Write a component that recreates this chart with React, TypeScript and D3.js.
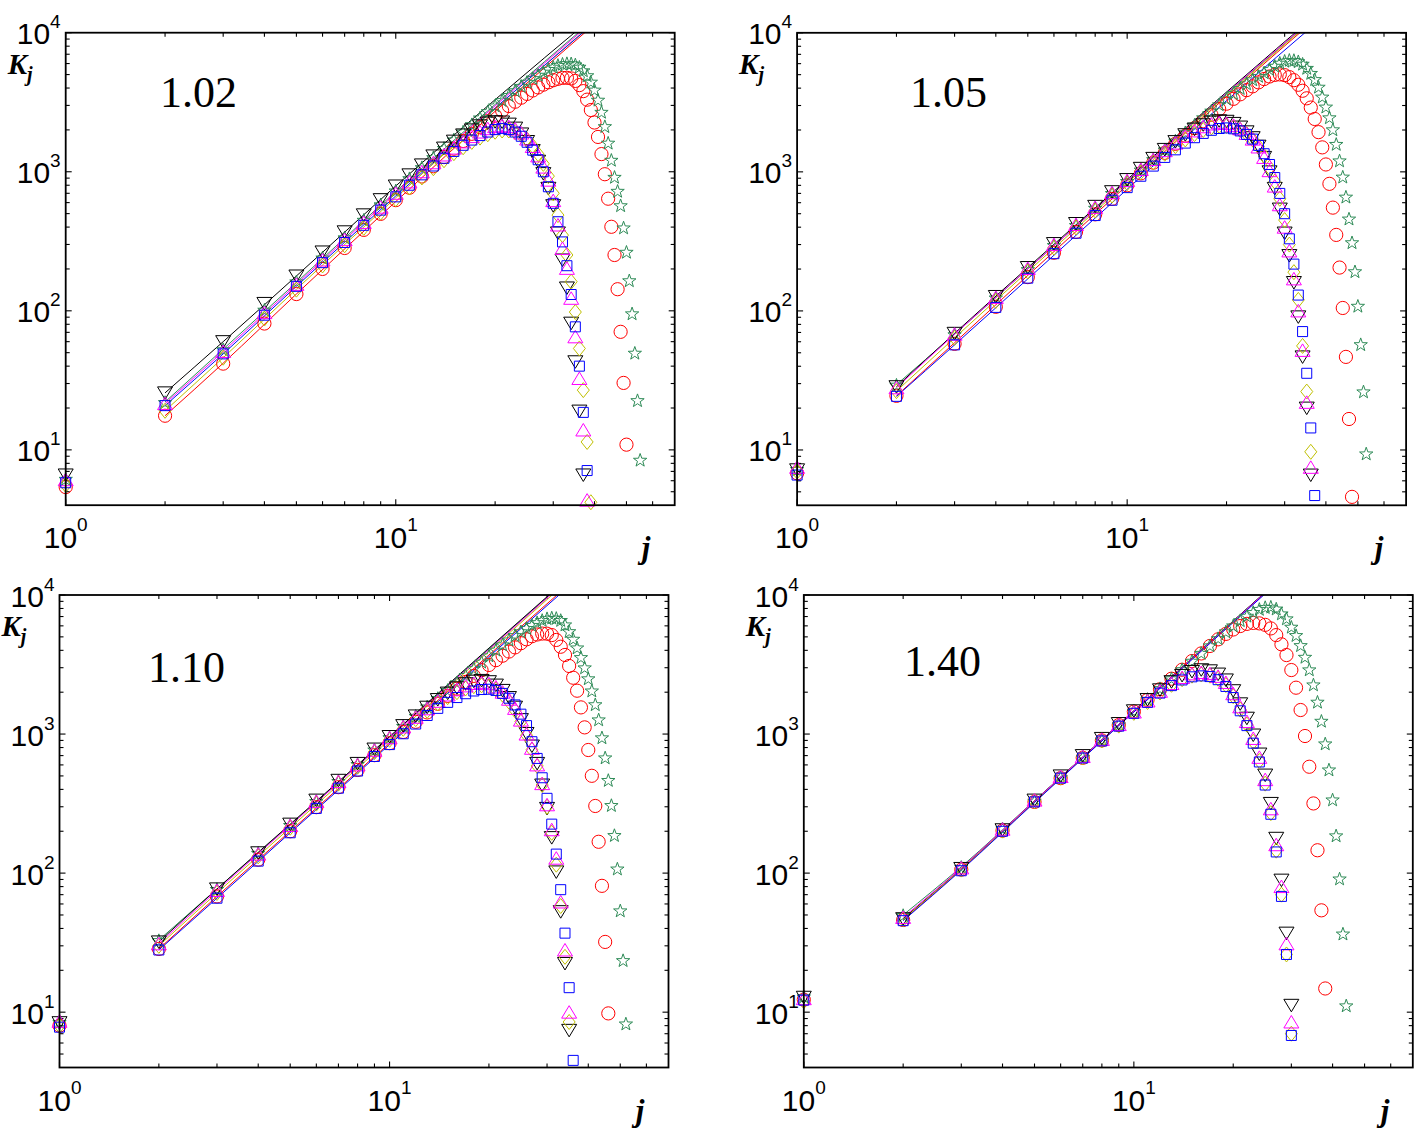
import React from 'react';
import * as d3 from 'd3';

// ---------------- data (K_j for j = 1..N) ----------------
const panelLabels = ['1.02', '1.05', '1.10', '1.40'];
const xDomain: [number, number] = [1, 70];
const yDomain: [number, number] = [4, 10000];
const xMajor = [1, 10];
const xMinor = [2, 3, 4, 5, 6, 7, 8, 9, 20, 30, 40, 50, 60];
const yMajor = [10, 100, 1000, 10000];
const yMinor = [5, 6, 7, 8, 9, 20, 30, 40, 50, 60, 70, 80, 90, 200, 300, 400, 500, 600, 700, 800, 900, 2000, 3000, 4000, 5000, 6000, 7000, 8000, 9000];
const xTickLabels = [{ v: 1, e: '0' }, { v: 10, e: '1' }];
const yTickLabels = [{ v: 10, e: '1' }, { v: 100, e: '2' }, { v: 1000, e: '3' }, { v: 10000, e: '4' }];

// fitted-curve knots (j values) and curve values per series
const lineJ = [2, 3, 5, 10, 20, 40];

// Panel 1 (1.02)
const p1Black = [6.6, 25.7, 60, 113, 178, 265, 370, 490, 630, 790, 950, 1120, 1300, 1480, 1660, 1840, 2000, 2140, 2240, 2290, 2280, 2200, 2060, 1870, 1650, 1420, 1190, 970, 760, 570, 363, 232, 146, 81.5, 43, 19, 6.6];
const p1Magenta = [6.1, 21.5, 51, 97, 155, 232, 325, 432, 556, 700, 845, 1000, 1160, 1320, 1480, 1640, 1790, 1930, 2040, 2110, 2140, 2110, 2030, 1900, 1720, 1520, 1300, 1080, 870, 620, 414, 281, 202, 123, 65, 32.6, 13.9, 4.35];
const p1Blue = [5.8, 20.8, 49, 93, 150, 222, 310, 412, 530, 660, 800, 950, 1100, 1250, 1400, 1550, 1690, 1820, 1930, 2010, 2050, 2010, 1930, 1800, 1630, 1430, 1220, 1000, 780, 593, 437, 313, 211, 131, 76.7, 40, 18.6, 7.1];
const p1Yellow = [5.6, 19.1, 46, 88, 142, 212, 296, 395, 508, 635, 770, 910, 1060, 1210, 1360, 1500, 1640, 1760, 1860, 1940, 1980, 1980, 1930, 1840, 1700, 1530, 1340, 1140, 930, 700, 488, 350, 252, 162, 98, 53.6, 26.9, 11.4, 4.2];
const p1Red = [5.4, 17.6, 41.7, 81, 132, 200, 283, 382, 498, 625, 768, 925, 1095, 1275, 1465, 1665, 1875, 2090, 2310, 2530, 2750, 2970, 3190, 3410, 3630, 3840, 4040, 4230, 4400, 4550, 4660, 4730, 4740, 4690, 4500, 4200, 3800, 3300, 2780, 2260, 1780, 1340, 960, 640, 402, 252, 143, 70.6, 30.3, 10.9];
const p1Green = [6.2, 22.1, 53, 102, 163, 242, 338, 452, 584, 735, 900, 1080, 1275, 1485, 1710, 1950, 2200, 2460, 2730, 3000, 3280, 3570, 3860, 4150, 4440, 4720, 4990, 5250, 5490, 5700, 5870, 5990, 6050, 6030, 5920, 5700, 5370, 4950, 4450, 3900, 3300, 2700, 2130, 1620, 1220, 920, 730, 575, 398, 266, 166, 96, 50, 22.8, 8.5];
const p1LineBlack = [25.7, 60, 178, 790, 3300, 13200];
const p1LineGreen = [22.1, 53, 160, 720, 3050, 12600];
const p1LineMagenta = [21.5, 51, 155, 700, 2980, 12300];
const p1LineYellow = [19.1, 46, 143, 650, 2850, 11900];
const p1LineBlue = [20.8, 49, 150, 670, 2870, 11800];
const p1LineRed = [17.6, 42, 132, 610, 2720, 11500];

// Panel 2 (1.05)
const p2Black = [7.2, 28.5, 69, 127, 205, 305, 425, 565, 720, 880, 1060, 1250, 1450, 1650, 1850, 2030, 2180, 2280, 2330, 2310, 2230, 2100, 1940, 1760, 1530, 1270, 1000, 760, 540, 363, 250, 160, 90.6, 46.7, 20, 6.6];
const p2Magenta = [7.5, 28, 68, 125, 202, 300, 418, 555, 708, 865, 1040, 1225, 1420, 1610, 1800, 1970, 2110, 2210, 2250, 2230, 2160, 2040, 1890, 1720, 1510, 1270, 1020, 790, 580, 400, 270, 170, 100, 52, 22, 7.5];
const p2Yellow = [7.0, 26.5, 64, 118, 192, 285, 398, 528, 675, 830, 995, 1170, 1350, 1530, 1710, 1870, 2000, 2090, 2140, 2140, 2090, 2000, 1870, 1710, 1520, 1300, 1070, 850, 640, 450, 300, 190, 120, 56, 26.3, 9.7];
const p2Blue = [6.6, 24.3, 57, 106, 172, 258, 362, 485, 625, 770, 930, 1100, 1270, 1440, 1610, 1760, 1890, 1990, 2050, 2070, 2040, 1970, 1860, 1720, 1550, 1350, 1130, 910, 700, 500, 330, 217, 130, 71, 35.6, 14.4, 4.7];
const p2Red = [6.8, 24.5, 58, 107, 175, 262, 370, 495, 640, 800, 975, 1165, 1370, 1590, 1820, 2060, 2310, 2570, 2830, 3090, 3350, 3610, 3870, 4120, 4400, 4650, 4850, 4980, 5020, 4960, 4800, 4560, 4230, 3830, 3380, 2900, 2400, 1930, 1500, 1130, 820, 553, 352, 205, 105, 46.7, 16.7, 4.6];
const p2Green = [7.3, 29.5, 68, 125, 200, 298, 415, 552, 705, 860, 1040, 1235, 1450, 1680, 1930, 2190, 2470, 2760, 3060, 3370, 3690, 4010, 4330, 4630, 4900, 5200, 5500, 5800, 6100, 6300, 6400, 6380, 6250, 6000, 5600, 5150, 4650, 4100, 3480, 2950, 2470, 2025, 1590, 1210, 925, 664, 462, 312, 193, 109, 57.7, 26.4, 9.45];
const p2LineBlack = [28.5, 69, 205, 880, 3750, 15500];
const p2LineGreen = [29.5, 68, 200, 860, 3650, 15000];
const p2LineMagenta = [28, 68, 200, 860, 3680, 15200];
const p2LineYellow = [26.5, 64, 192, 830, 3580, 14800];
const p2LineBlue = [24.3, 57, 170, 750, 3250, 13500];
const p2LineRed = [24.5, 59, 180, 800, 3480, 14500];

// Panel 3 (1.10)
const p3Black = [8.4, 32, 77, 140, 225, 335, 465, 615, 780, 960, 1150, 1350, 1560, 1770, 1970, 2150, 2300, 2400, 2430, 2380, 2250, 2060, 1830, 1560, 1270, 1010, 820, 615, 430, 292, 180, 102, 52.8, 22.4, 7.4];
const p3Magenta = [8.6, 31, 75, 137, 220, 328, 455, 600, 765, 940, 1125, 1320, 1520, 1720, 1910, 2080, 2220, 2310, 2340, 2300, 2180, 2000, 1780, 1530, 1260, 1000, 790, 600, 440, 310, 205, 128, 62, 28, 10];
const p3Yellow = [8.0, 30, 72, 132, 212, 316, 440, 582, 742, 910, 1090, 1280, 1470, 1660, 1840, 2000, 2130, 2210, 2240, 2200, 2090, 1920, 1710, 1480, 1230, 980, 770, 590, 430, 300, 195, 115, 58, 25, 8.5];
const p3Blue = [7.8, 28, 66, 122, 195, 292, 408, 542, 690, 840, 1005, 1180, 1360, 1530, 1690, 1830, 1950, 2040, 2090, 2100, 2060, 1960, 1810, 1620, 1390, 1150, 881, 668, 485, 345, 225, 137, 76, 37, 15, 4.5];
const p3Red = [8.0, 28.5, 68, 125, 200, 298, 415, 552, 705, 860, 1035, 1225, 1430, 1650, 1880, 2120, 2370, 2620, 2880, 3140, 3400, 3660, 3920, 4200, 4500, 4800, 5050, 5200, 5280, 5270, 5150, 4750, 4246, 3705, 3087, 2541, 2050, 1555, 1117, 768, 501, 304, 168, 81, 32, 9.8];
const p3Green = [8.5, 33, 77, 140, 222, 330, 460, 610, 775, 950, 1145, 1355, 1580, 1820, 2080, 2360, 2660, 2980, 3320, 3680, 4050, 4420, 4790, 5150, 5490, 5800, 6100, 6380, 6620, 6820, 6900, 6850, 6620, 6150, 5500, 4850, 4200, 3580, 3020, 2520, 2060, 1640, 1276, 948, 680, 468, 309, 188, 108, 54, 23.7, 8.3];
const p3LineBlack = [32, 77, 225, 960, 4150, 17800];
const p3LineGreen = [33, 77, 222, 950, 4100, 17600];
const p3LineMagenta = [31, 75, 220, 940, 4050, 17400];
const p3LineYellow = [30, 72, 212, 910, 3950, 17000];
const p3LineBlue = [28, 66, 195, 840, 3600, 15300];
const p3LineRed = [28.5, 68, 200, 860, 3700, 15800];

// Panel 4 (1.40)
const p4Black = [12.8, 47, 108, 205, 335, 500, 700, 930, 1190, 1470, 1770, 2080, 2380, 2640, 2820, 2900, 2850, 2700, 2450, 2050, 1650, 1300, 984, 718, 507, 317, 178, 89, 37, 11.2];
const p4Magenta = [12.5, 48, 109, 207, 335, 495, 690, 915, 1170, 1440, 1730, 2030, 2310, 2550, 2710, 2770, 2720, 2600, 2350, 1950, 1570, 1230, 930, 680, 470, 290, 160, 80, 31, 8.5];
const p4Yellow = [12.0, 46.5, 106, 202, 328, 486, 678, 900, 1150, 1420, 1700, 1990, 2260, 2480, 2630, 2680, 2630, 2500, 2250, 1870, 1500, 1170, 880, 640, 440, 270, 145, 70, 26, 7];
const p4Blue = [12.2, 45.5, 104, 200, 325, 482, 672, 892, 1140, 1410, 1690, 1970, 2230, 2450, 2580, 2620, 2590, 2460, 2200, 1830, 1470, 1150, 860, 630, 430, 265, 142, 68, 26, 6.8];
const p4Red = [12.3, 46, 106, 202, 325, 482, 675, 900, 1160, 1450, 1760, 2100, 2500, 2900, 3350, 3800, 4300, 4800, 5250, 5650, 5980, 6200, 6300, 6250, 6100, 5750, 5150, 4420, 3700, 2886, 2155, 1489, 968, 582, 317, 146, 54, 14.8];
const p4Green = [13, 50, 111, 210, 332, 490, 685, 912, 1175, 1470, 1790, 2140, 2520, 2930, 3370, 3840, 4350, 4900, 5480, 6050, 6600, 7100, 7550, 7950, 8200, 8250, 8000, 7380, 6800, 5920, 5156, 4365, 3597, 2921, 2277, 1710, 1247, 857, 557, 339, 187, 91.6, 36.8, 11.2];
const p4LineBlack = [47, 108, 330, 1470, 6500, 28500];
const p4LineGreen = [50, 111, 332, 1470, 6500, 28500];
const p4LineMagenta = [48, 109, 330, 1465, 6450, 28300];
const p4LineYellow = [46.5, 107, 326, 1450, 6400, 28000];
const p4LineBlue = [45.5, 105, 322, 1440, 6350, 27800];
const p4LineRed = [46, 106, 325, 1450, 6420, 28200];

type Key = 'red' | 'green' | 'black' | 'yellow' | 'magenta' | 'blue';
const panelData: Record<Key, number[]>[] = [
  { red: p1Red, green: p1Green, black: p1Black, yellow: p1Yellow, magenta: p1Magenta, blue: p1Blue },
  { red: p2Red, green: p2Green, black: p2Black, yellow: p2Yellow, magenta: p2Magenta, blue: p2Blue },
  { red: p3Red, green: p3Green, black: p3Black, yellow: p3Yellow, magenta: p3Magenta, blue: p3Blue },
  { red: p4Red, green: p4Green, black: p4Black, yellow: p4Yellow, magenta: p4Magenta, blue: p4Blue },
];
const panelLines: Record<Key, number[]>[] = [
  { red: p1LineRed, green: p1LineGreen, black: p1LineBlack, yellow: p1LineYellow, magenta: p1LineMagenta, blue: p1LineBlue },
  { red: p2LineRed, green: p2LineGreen, black: p2LineBlack, yellow: p2LineYellow, magenta: p2LineMagenta, blue: p2LineBlue },
  { red: p3LineRed, green: p3LineGreen, black: p3LineBlack, yellow: p3LineYellow, magenta: p3LineMagenta, blue: p3LineBlue },
  { red: p4LineRed, green: p4LineGreen, black: p4LineBlack, yellow: p4LineYellow, magenta: p4LineMagenta, blue: p4LineBlue },
];

// ---------------- layout & style ----------------
const frames = [
  { left: 65.7, top: 32.7, jx: 646, lx: 160, ly: 107 },
  { left: 797.1, top: 32.8, jx: 1379, lx: 910, ly: 107 },
  { left: 59.5, top: 595, jx: 640, lx: 148, ly: 682 },
  { left: 803.8, top: 595, jx: 1385, lx: 904, ly: 676 },
];
const PW = 609;
const PH = 472.5;

const order: Key[] = ['red', 'green', 'black', 'yellow', 'magenta', 'blue'];
const colors: Record<Key, string> = {
  red: '#ff0000',
  green: '#2e8b57',
  black: '#000000',
  yellow: '#bfbf00',
  magenta: '#ff00ff',
  blue: '#0000ff',
};

function markerPath(k: Key): string {
  switch (k) {
    case 'red': {
      const r = 6.6;
      return `M${-r},0A${r},${r} 0 1,0 ${r},0A${r},${r} 0 1,0 ${-r},0Z`;
    }
    case 'blue':
      return 'M-5,-5L5,-5L5,5L-5,5Z';
    case 'magenta':
      return 'M0,-6.5L7.5,6L-7.5,6Z';
    case 'black':
      return 'M-7.5,-6L7.5,-6L0,6.5Z';
    case 'yellow':
      return 'M0,-7.5L6,0L0,7.5L-6,0Z';
    case 'green': {
      const R = 7, r = 2.8;
      const pts: string[] = [];
      for (let i = 0; i < 10; i++) {
        const a = -Math.PI / 2 + (i * Math.PI) / 5;
        const rr = i % 2 === 0 ? R : r;
        pts.push(`${(rr * Math.cos(a)).toFixed(2)},${(rr * Math.sin(a) + 0.8).toFixed(2)}`);
      }
      return 'M' + pts.join('L') + 'Z';
    }
  }
  return '';
}

const tickFont = '"Liberation Sans", Arial, Helvetica, sans-serif';
const serifFont = '"Liberation Serif", "Times New Roman", Times, serif';

function Panel({ idx }: { idx: number }) {
  const f = frames[idx];
  const L = f.left, T = f.top, R = f.left + PW, B = f.top + PH;
  const x = d3.scaleLog().domain(xDomain).range([L, R]);
  const y = d3.scaleLog().domain(yDomain).range([B, T]);
  const data = panelData[idx];
  const lines = panelLines[idx];
  const lineGen = d3
    .line<[number, number]>()
    .x((d) => x(d[0]))
    .y((d) => y(d[1]))
    .curve(d3.curveMonotoneX);
  const clipId = `clip${idx}`;
  const maj = 6, mnr = 4;
  return (
    <g>
      <defs>
        <clipPath id={clipId}>
          <rect x={L} y={T} width={PW} height={PH} />
        </clipPath>
      </defs>
      {/* ticks */}
      <g stroke="#000" strokeWidth={1.1}>
        {xMajor.concat(xMinor).map((v) => {
          const len = xMajor.includes(v) ? maj : mnr;
          const xx = x(v);
          return (
            <g key={'x' + v}>
              <line x1={xx} x2={xx} y1={B} y2={B - len} />
              <line x1={xx} x2={xx} y1={T} y2={T + len} />
            </g>
          );
        })}
        {yMajor.concat(yMinor).map((v) => {
          const len = yMajor.includes(v) ? maj : mnr;
          const yy = y(v);
          return (
            <g key={'y' + v}>
              <line x1={L} x2={L + len} y1={yy} y2={yy} />
              <line x1={R} x2={R - len} y1={yy} y2={yy} />
            </g>
          );
        })}
      </g>
      {/* fitted curves */}
      <g clipPath={`url(#${clipId})`} fill="none" strokeWidth={1}>
        {order.map((k) => (
          <path
            key={'l' + k}
            d={lineGen(lineJ.map((j, i) => [j, lines[k][i]] as [number, number])) || ''}
            stroke={colors[k]}
          />
        ))}
      </g>
      {/* markers */}
      {order.map((k) => (
        <g key={'m' + k} fill="none" stroke={colors[k]} strokeWidth={1}>
          {data[k].map((v, i) => (
            <path key={i} d={markerPath(k)} transform={`translate(${x(i + 1)},${y(v)})`} />
          ))}
        </g>
      ))}
      {/* frame */}
      <rect x={L} y={T} width={PW} height={PH} fill="none" stroke="#000" strokeWidth={1.8} />
      {/* tick labels */}
      <g fontFamily={tickFont} fill="#000">
        {xTickLabels.map((t) => (
          <text key={'xl' + t.v} x={x(t.v)} y={B + 43} textAnchor="middle" fontSize={30}>
            10
            <tspan fontSize={19} dy={-17}>
              {t.e}
            </tspan>
          </text>
        ))}
        {yTickLabels.map((t) => (
          <text key={'yl' + t.v} x={L - 5} y={y(t.v) + 11.5} textAnchor="end" fontSize={30}>
            10
            <tspan fontSize={19} dy={-16}>
              {t.e}
            </tspan>
          </text>
        ))}
      </g>
      {/* axis labels */}
      <text x={L - 58} y={T + 41} fontFamily={serifFont} fontWeight="bold" fontStyle="italic" fontSize={29}>
        K
        <tspan fontSize={20} dy={7}>
          j
        </tspan>
      </text>
      <text x={f.jx} y={B + 53} textAnchor="middle" fontFamily={serifFont} fontWeight="bold" fontStyle="italic" fontSize={31}>
        j
      </text>
      <text x={f.lx} y={f.ly} fontFamily={serifFont} fontSize={44}>
        {panelLabels[idx]}
      </text>
    </g>
  );
}

export default function App() {
  return (
    <svg
      width={1417}
      height={1129}
      viewBox="0 0 1417 1129"
      style={{ position: 'absolute', left: 0, top: 0, background: '#fff' }}
    >
      <rect x={0} y={0} width={1417} height={1129} fill="#fff" />
      {[0, 1, 2, 3].map((i) => (
        <Panel key={i} idx={i} />
      ))}
    </svg>
  );
}
